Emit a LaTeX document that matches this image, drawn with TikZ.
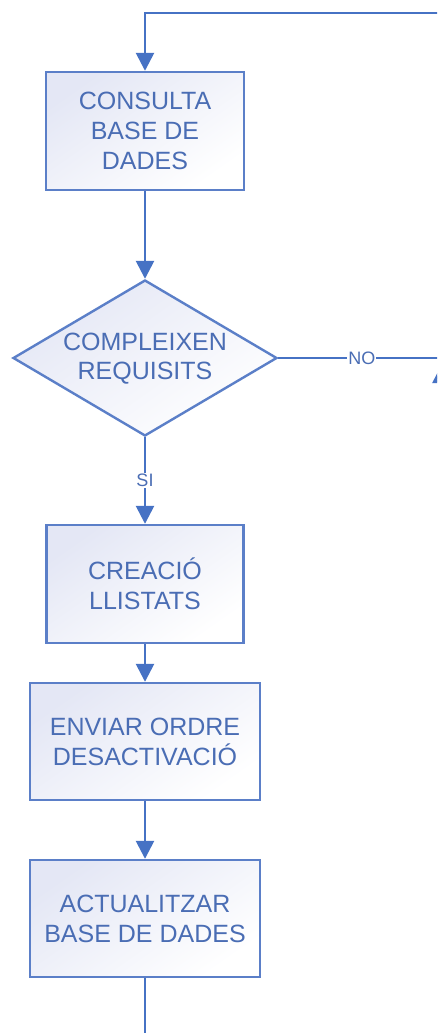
\documentclass[tikz,border=0pt]{standalone}
\usepackage{fontspec}
\setmainfont{Liberation Sans}
\usetikzlibrary{arrows.meta,shapes.geometric}
\definecolor{flow}{HTML}{4672C4}
\definecolor{boxline}{HTML}{5B7FC8}
\definecolor{ink}{HTML}{4A6DB4}
\definecolor{tint}{HTML}{E4E7F5}
\tikzset{
  procbox/.style={draw=boxline, line width=2.4pt, rectangle, inner sep=0pt,
    top color=tint, bottom color=white, shading angle=35,
    text=ink, align=center, font=\fontsize{25}{30}\selectfont},
  decision/.style={draw=boxline, line width=2.4pt, diamond, inner sep=0pt,
    top color=tint, bottom color=white, shading angle=35,
    minimum width=264pt, minimum height=156pt},
  decisiontext/.style={text=ink, align=center, font=\fontsize{25}{29}\selectfont},
  flowline/.style={draw=flow, line width=2.6pt},
  flowarrow/.style={flowline, -{Triangle[length=18pt,width=18pt]}},
  branchlabel/.style={fill=white, text=ink, inner sep=1pt, font=\fontsize{18}{18}\selectfont}
}
\begin{document}
\begin{tikzpicture}[x=1pt,y=-1pt]
  \useasboundingbox (0,0) rectangle (437,1033);
  \clip (0,0) rectangle (437,1033);

  % process steps and the decision, all on one vertical axis
  \node[procbox, minimum width=198pt, minimum height=118pt] (consulta) at (145,131)
    {CONSULTA\\BASE DE\\DADES};
  \node[decision] (requisits) at (145,358) {};
  \node[decisiontext] (requisitsText) at (145,359) {COMPLEIXEN\\REQUISITS};
  \node[procbox, minimum width=197pt, minimum height=118pt] (llistats) at (145,584)
    {CREACIÓ\\LLISTATS};
  \node[procbox, minimum width=230pt, minimum height=117pt] (enviar) at (145,741.5)
    {ENVIAR ORDRE\\DESACTIVACIÓ};
  \node[procbox, minimum width=230pt, minimum height=117pt] (actualitzar) at (145,918.5)
    {ACTUALITZAR\\BASE DE DADES};

  % loop-back line entering from the right
  \coordinate (loopIn) at (460,13);
  \coordinate (loopCorner) at (145,13);
  \draw[flowarrow] (loopIn) -- (loopCorner) -- (consulta.north);

  \draw[flowarrow] (consulta.south) -- (requisits.north);

  % "NO" branch leaving to the right
  \coordinate (noEnd) at (460,358);
  \draw[flowline] (requisits.east) -- node[branchlabel, pos=0.46] (no) {NO} (noEnd);
  \coordinate (upFrom) at (441.5,420);
  \coordinate (upTo) at (441.5,365);
  \draw[flowarrow] (upFrom) -- (upTo);

  % "SI" branch
  \draw[flowarrow] (requisits.south) -- node[branchlabel, pos=0.5] (si) {SI} (llistats.north);

  \draw[flowarrow] (llistats.south) -- (enviar.north);
  \draw[flowarrow] (enviar.south) -- (actualitzar.north);

  \coordinate (outEnd) at (145,1045);
  \draw[flowline] (actualitzar.south) -- (outEnd);
\end{tikzpicture}
\end{document}
